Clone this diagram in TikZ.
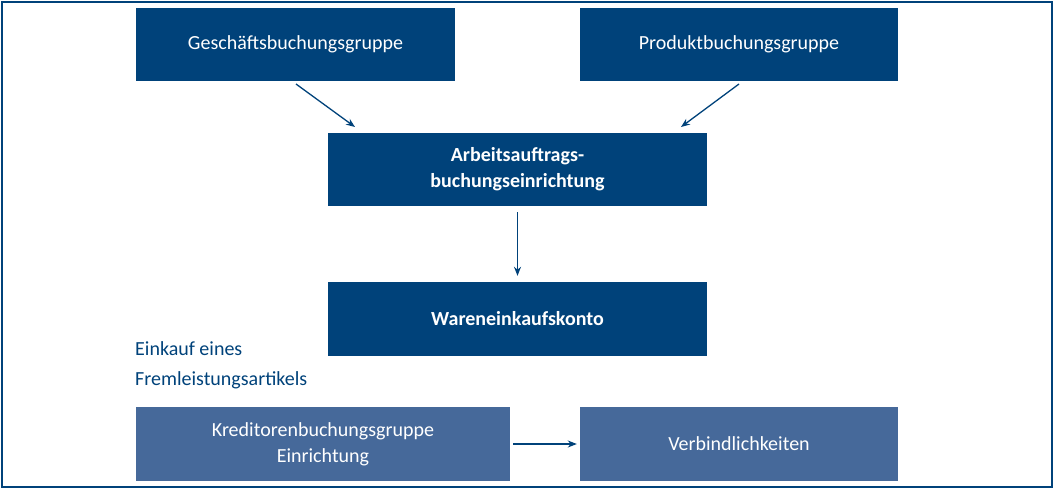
\documentclass[tikz,border=0pt]{standalone}
\usetikzlibrary{arrows.meta}
\usepackage{fontspec}
\setmainfont{Carlito}
\begin{document}
\begin{tikzpicture}[x=1pt,y=-1pt,
 dbox/.style={fill=dk,text=white,minimum height=73pt,inner sep=0pt,align=center,font=\fontsize{20}{24}\selectfont},
 lbox/.style={dbox,fill=lt},
 arr/.style={draw=dk,line width=1.3pt,-{Stealth[length=9pt,width=7pt]}}]
\definecolor{dk}{HTML}{00427A}
\definecolor{lt}{HTML}{46699A}
\useasboundingbox (0,0) rectangle (1055,490);
\draw[draw=dk,line width=1.2pt] (2,2) rectangle (1052,487);
\node[dbox,minimum width=319pt] (g) at (295.5,44) {Geschäftsbuchungsgruppe};
\node[dbox,minimum width=318pt] (p) at (739,44) {Produktbuchungsgruppe};
\node[dbox,minimum width=379pt,font=\fontsize{20}{26}\selectfont\bfseries] (a) at (517.5,169.5) {Arbeitsauftrags-\\buchungseinrichtung};
\node[dbox,minimum width=379pt,minimum height=74pt,font=\fontsize{20}{24}\selectfont\bfseries] (w) at (517.5,319) {Wareneinkaufskonto};
\node[lbox,minimum width=374pt,minimum height=74pt,font=\fontsize{20}{26}\selectfont] (k) at (323,444) {Kreditorenbuchungsgruppe\\Einrichtung};
\node[lbox,minimum width=318pt,minimum height=74pt] (v) at (739,444) {Verbindlichkeiten};
\node[anchor=north west,text=dk,align=left,inner sep=0pt,font=\fontsize{20}{30}\selectfont] (e) at (135,341) {Einkauf eines\\Fremleistungsartikels};
\draw[arr] (296,84) -- (355,127);
\draw[arr] (739,84) -- (681,127);
\draw[arr] (a.south) ++(0,6) -- ([yshift=6pt]w.north);
\draw[arr] ([xshift=3pt]k.east) -- ([xshift=-3pt]v.west);
\end{tikzpicture}
\end{document}
